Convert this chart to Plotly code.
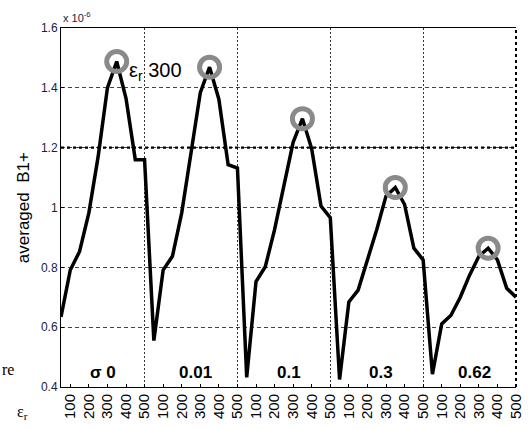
import plotly.graph_objects as go

# ---- data (values in units of 1e-6) ----
eps_ticks = [100, 200, 300, 400, 500]
sigma_labels = ["σ 0", "0.01", "0.1", "0.3", "0.62"]
b1_block1 = [0.634, 0.791, 0.853, 0.982, 1.17, 1.40, 1.488, 1.365, 1.16, 1.16]
b1_block2 = [0.555, 0.791, 0.837, 0.982, 1.182, 1.384, 1.469, 1.362, 1.143, 1.132]
b1_block3 = [0.432, 0.752, 0.802, 0.926, 1.072, 1.218, 1.297, 1.196, 1.005, 0.966]
b1_block4 = [0.425, 0.684, 0.724, 0.825, 0.926, 1.038, 1.067, 1.01, 0.864, 0.825]
b1_block5 = [0.443, 0.611, 0.64, 0.70, 0.774, 0.837, 0.864, 0.825, 0.73, 0.70]
peak_pos_in_block = 7  # eps_r ~ 300 peak

blocks = [b1_block1, b1_block2, b1_block3, b1_block4, b1_block5]
y = [v for b in blocks for v in b]
x = list(range(1, len(y) + 1))
n_per = len(b1_block1)

tickvals = [i for i in x if i % 2 == 0]
ticktext = [str(eps_ticks[(k % 5)]) for k in range(len(tickvals))]

peak_x = [k * n_per + peak_pos_in_block for k in range(5)]
peak_y = [y[px - 1] for px in peak_x]

fig = go.Figure()
fig.add_trace(go.Scatter(x=x, y=y, mode="lines",
                         line=dict(color="black", width=3.5), showlegend=False))
fig.add_trace(go.Scatter(x=peak_x, y=peak_y, mode="markers",
                         marker=dict(symbol="circle-open", size=20,
                                     line=dict(color="#8a8a8a", width=5),
                                     color="#8a8a8a"),
                         showlegend=False))
# invisible trace on overlay axis for block dividers
fig.add_trace(go.Scatter(x=[1, 50], y=[0.4, 0.4], xaxis="x2", mode="lines",
                         line=dict(width=0), showlegend=False, hoverinfo="skip"))

fig.update_layout(
    width=532, height=429,
    margin=dict(l=61, r=16, t=28, b=42),
    paper_bgcolor="white", plot_bgcolor="white",
    font=dict(family="Liberation Sans, Arial", color="black"),
    xaxis=dict(range=[1, 50], tickvals=tickvals, ticktext=ticktext,
               tickangle=-90, showgrid=False, zeroline=False, automargin=False,
               showline=True, linecolor="black", linewidth=1, mirror=True,
               ticks="inside", ticklen=3, tickcolor="black",
               tickfont=dict(size=15, family="Liberation Sans, Arial", color="black")),
    xaxis2=dict(range=[1, 50], overlaying="x", tickvals=[10, 20, 30, 40, 50],
                showticklabels=False, showgrid=True, gridcolor="#333333",
                griddash="2px,2px", gridwidth=1, zeroline=False, showline=False,
                automargin=False),
    yaxis=dict(range=[0.4, 1.6], tickvals=[0.4, 0.6, 0.8, 1.0, 1.2, 1.4, 1.6],
               ticktext=["0.4", "0.6", "0.8", "1", "1.2", "1.4", "1.6"],
               showgrid=True, gridcolor="#444444", griddash="4px,3px", gridwidth=0.7,
               zeroline=False, showline=True, linecolor="black", linewidth=1,
               ticks="inside", ticklen=3, tickcolor="black", automargin=False,
               tickfont=dict(size=12, color="#1c1c3c")),
    shapes=[dict(type="line", xref="paper", yref="y", x0=0, x1=1, y0=1.2, y1=1.2,
                 line=dict(color="black", width=2.2, dash="dot")),
            dict(type="line", xref="paper", yref="paper", x0=1, x1=1, y0=0, y1=1,
                 line=dict(color="black", width=2, dash="dot"))],
)

ann = []
# sigma labels centred in each block
for k, lab in enumerate(sigma_labels):
    ann.append(dict(x=k * n_per + 5.5, y=0.447, xref="x", yref="y", text="<b>%s</b>" % lab,
                    showarrow=False, font=dict(size=17, family="Liberation Sans", color="black")))
ann.append(dict(x=peak_x[0] + 1.1, y=1.455, xref="x", yref="y",
                text="ε<sub>r</sub> 300", xanchor="left", yanchor="middle", showarrow=False,
                font=dict(size=20, family="Liberation Sans", color="black")))
ann.append(dict(x=0.0, y=1.0, xref="paper", yref="paper", text="x 10<sup>-6</sup>",
                xanchor="left", yanchor="bottom", yshift=2, showarrow=False,
                font=dict(size=11, color="#1c1c3c")))
ann.append(dict(x=-0.082, y=0.5, xref="paper", yref="paper", text="averaged  B1+",
                textangle=-90, xanchor="center", yanchor="middle", showarrow=False,
                font=dict(size=17, color="black")))
ann.append(dict(x=-0.085, y=-0.07, xref="paper", yref="paper", text="ε<sub>r</sub>",
                xanchor="center", yanchor="middle", showarrow=False,
                font=dict(size=16, family="Liberation Serif", color="black")))
ann.append(dict(x=-0.134, y=0.05, xref="paper", yref="paper", text="re",
                xanchor="left", yanchor="middle", showarrow=False,
                font=dict(size=16, family="Liberation Serif", color="black")))
fig.update_layout(annotations=ann)

fig.write_html("out.html", config={"displayModeBar": False},
               post_script="document.body.style.margin='0';document.body.style.overflow='hidden';")
